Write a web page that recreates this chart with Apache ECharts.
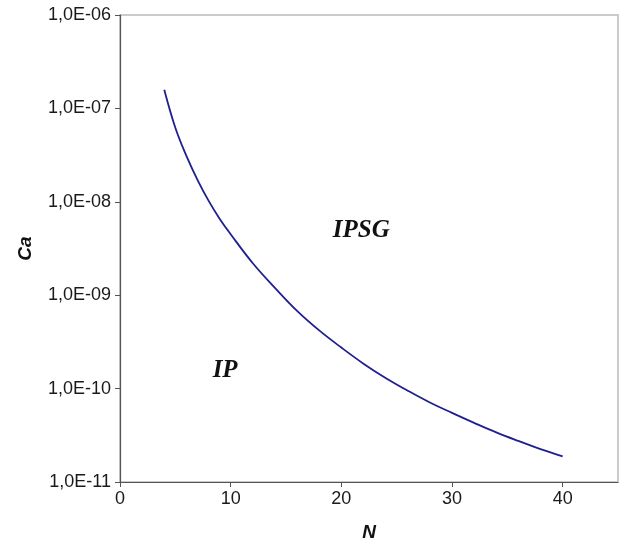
<!DOCTYPE html>
<html>
<head>
<meta charset="utf-8">
<script src="https://cdn.jsdelivr.net/npm/echarts@6/dist/echarts.min.js"></script>
<style>
html,body{margin:0;padding:0;background:#fff;}
#chart{width:622px;height:547px;}
</style>
</head>
<body>
<div id="chart"></div>
<script>
// Data
var nValues = [4, 5, 6, 7, 8, 9, 10, 12, 14, 16, 18, 20, 22, 24, 26, 28, 30, 32, 34, 36, 38, 40];
var caValues = [1.58e-7, 6.2e-8, 3.1e-8, 1.72e-8, 1.03e-8, 6.6e-9, 4.5e-9, 2.2e-9, 1.2e-9, 6.8e-10, 4.2e-10, 2.75e-10, 1.85e-10, 1.3e-10, 9.5e-11, 7.1e-11, 5.5e-11, 4.3e-11, 3.4e-11, 2.75e-11, 2.25e-11, 1.88e-11];
var regionNames = ['IPSG', 'IP'];
var regionN = [21.8, 9.5];
var regionCa = [4.9e-9, 1.55e-10];
var xTicks = [0, 10, 20, 30, 40];
var yTickExponents = [-11, -10, -9, -8, -7, -6];

var chart = echarts.init(document.getElementById('chart'), null, {renderer: 'canvas'});

function fmtY(v) {
  var e = Math.round(Math.log10(v));
  var a = Math.abs(e);
  return '1,0E' + (e < 0 ? '-' : '+') + (a < 10 ? '0' + a : '' + a);
}

var lineData = nValues.map(function (n, i) { return [n, caValues[i]]; });
var labelData = regionNames.map(function (name, i) { return {name: name, value: [regionN[i], regionCa[i]]}; });

var axisColor = '#555';
var labelFont = {fontFamily: '"Liberation Sans", Arial, sans-serif', fontSize: 18, color: '#1a1a1a'};

chart.setOption({
  animation: false,
  backgroundColor: '#fff',
  grid: {left: 120, right: 4, top: 15, bottom: 58, show: true, borderColor: '#bbb', borderWidth: 1.5},
  xAxis: {
    type: 'value',
    min: xTicks[0],
    max: 45,
    interval: 10,
    name: 'N',
    nameLocation: 'middle',
    nameGap: 41,
    nameTextStyle: {fontFamily: '"Liberation Sans", Arial, sans-serif', fontSize: 19, fontWeight: 'bold', fontStyle: 'italic', color: '#111'},
    axisLine: {show: true, lineStyle: {color: axisColor, width: 1.2}},
    axisTick: {show: true, inside: false, length: 5, lineStyle: {color: axisColor}},
    axisLabel: Object.assign({margin: 8, showMaxLabel: false}, labelFont),
    splitLine: {show: false}
  },
  yAxis: {
    type: 'log',
    logBase: 10,
    min: Math.pow(10, yTickExponents[0]),
    max: Math.pow(10, yTickExponents[yTickExponents.length - 1]),
    name: 'Ca',
    nameLocation: 'middle',
    nameGap: 85,
    nameRotate: 90,
    nameTextStyle: {fontFamily: '"Liberation Sans", Arial, sans-serif', fontSize: 19, fontWeight: 'bold', fontStyle: 'italic', color: '#111'},
    axisLine: {show: true, lineStyle: {color: axisColor, width: 1.2}},
    axisTick: {show: true, inside: false, length: 5, lineStyle: {color: axisColor}},
    axisLabel: Object.assign({margin: 9, formatter: fmtY}, labelFont),
    splitLine: {show: false}
  },
  series: [
    {
      type: 'line',
      data: lineData,
      smooth: 0.4,
      showSymbol: false,
      lineStyle: {color: '#1f1f8f', width: 1.8},
      z: 3
    },
    {
      type: 'scatter',
      data: labelData,
      symbolSize: 0,
      label: {
        show: true,
        position: 'inside',
        formatter: function (p) { return p.name; },
        fontFamily: '"Liberation Serif", "Times New Roman", serif',
        fontWeight: 'bold',
        fontStyle: 'italic',
        fontSize: 25,
        color: '#111',
        textBorderWidth: 0,
        opacity: 1
      },
      itemStyle: {opacity: 1},
      z: 4
    }
  ]
});
</script>
</body>
</html>
